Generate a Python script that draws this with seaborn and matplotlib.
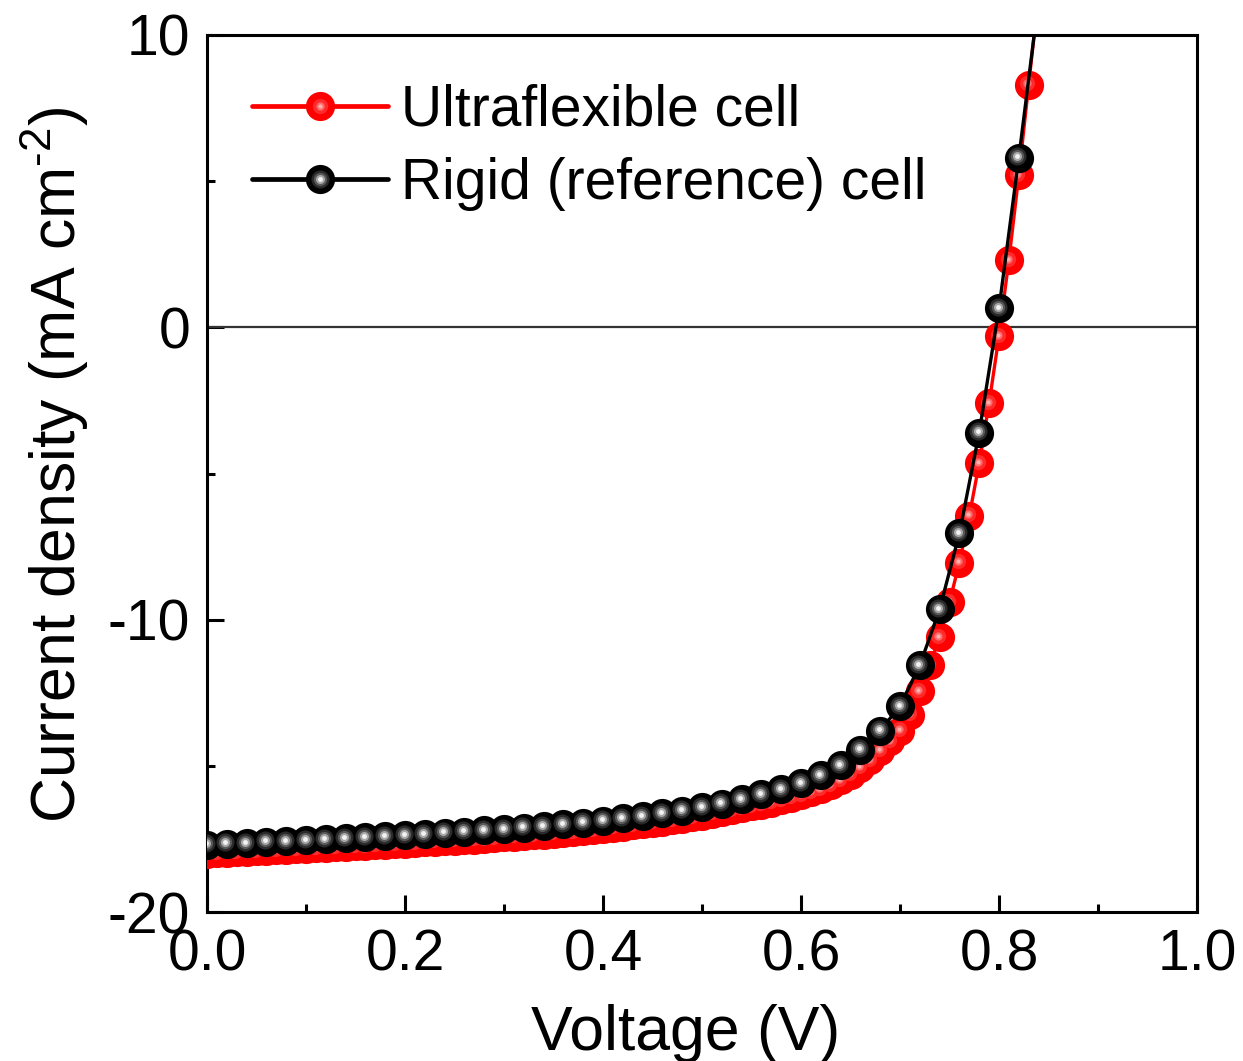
import numpy as np
import pandas as pd
import seaborn as sns
import matplotlib
matplotlib.use("Agg")
import matplotlib.pyplot as plt
from matplotlib.lines import Line2D
from matplotlib.legend_handler import HandlerTuple
from matplotlib.ticker import MultipleLocator
import matplotlib.transforms as mtransforms

# ---------------- data ----------------
rigid_voltage = [0.00, 0.02, 0.04, 0.06, 0.08, 0.10, 0.12, 0.14, 0.16, 0.18,
                 0.20, 0.22, 0.24, 0.26, 0.28, 0.30, 0.32, 0.34, 0.36, 0.38,
                 0.40, 0.42, 0.44, 0.46, 0.48, 0.50, 0.52, 0.54, 0.56, 0.58,
                 0.60, 0.62, 0.64, 0.66, 0.68, 0.70, 0.72, 0.74, 0.76, 0.78,
                 0.80, 0.82, 0.84]
rigid_current = [-17.70, -17.67, -17.64, -17.60, -17.57, -17.54, -17.50, -17.47, -17.44, -17.41,
                 -17.37, -17.33, -17.29, -17.25, -17.21, -17.16, -17.11, -17.06, -17.00, -16.94,
                 -16.88, -16.80, -16.72, -16.63, -16.53, -16.42, -16.30, -16.15, -15.98, -15.80,
                 -15.60, -15.32, -14.97, -14.45, -13.80, -12.95, -11.56, -9.65, -7.05, -3.60,
                 0.65, 5.80, 11.20]

flex_voltage = [0.00, 0.01, 0.02, 0.03, 0.04, 0.05, 0.06, 0.07, 0.08, 0.09,
                0.10, 0.11, 0.12, 0.13, 0.14, 0.15, 0.16, 0.17, 0.18, 0.19,
                0.20, 0.21, 0.22, 0.23, 0.24, 0.25, 0.26, 0.27, 0.28, 0.29,
                0.30, 0.31, 0.32, 0.33, 0.34, 0.35, 0.36, 0.37, 0.38, 0.39,
                0.40, 0.41, 0.42, 0.43, 0.44, 0.45, 0.46, 0.47, 0.48, 0.49,
                0.50, 0.51, 0.52, 0.53, 0.54, 0.55, 0.56, 0.57, 0.58, 0.59,
                0.60, 0.61, 0.62, 0.63, 0.64, 0.65, 0.66, 0.67, 0.68, 0.69,
                0.70, 0.71, 0.72, 0.73, 0.74, 0.75, 0.76, 0.77, 0.78, 0.79,
                0.80, 0.81, 0.82, 0.83, 0.84]
flex_current = [-18.00, -17.98, -17.97, -17.95, -17.94, -17.92, -17.90, -17.89, -17.87, -17.85,
                -17.84, -17.82, -17.80, -17.79, -17.77, -17.75, -17.74, -17.72, -17.70, -17.68,
                -17.66, -17.64, -17.62, -17.60, -17.58, -17.56, -17.54, -17.52, -17.50, -17.47,
                -17.45, -17.42, -17.40, -17.37, -17.35, -17.32, -17.29, -17.26, -17.23, -17.20,
                -17.16, -17.12, -17.08, -17.04, -17.00, -16.95, -16.91, -16.86, -16.81, -16.76,
                -16.70, -16.64, -16.58, -16.51, -16.45, -16.39, -16.33, -16.26, -16.18, -16.09,
                -16.00, -15.90, -15.79, -15.66, -15.50, -15.30, -15.07, -14.80, -14.48, -14.15,
                -13.80, -13.25, -12.45, -11.55, -10.60, -9.40, -8.05, -6.45, -4.65, -2.60,
                -0.30, 2.30, 5.20, 8.30, 11.40]

series_labels = ["Ultraflexible cell", "Rigid (reference) cell"]
x_ticks = [0.0, 0.2, 0.4, 0.6, 0.8, 1.0]
y_ticks = [-20, -10, 0, 10]

flex_df = pd.DataFrame({"Voltage": flex_voltage, "Current": flex_current})
rigid_df = pd.DataFrame({"Voltage": rigid_voltage, "Current": rigid_current})

# ---------------- style ----------------
sns.set_theme(style="ticks")
plt.rcParams["font.family"] = ["Liberation Sans", "DejaVu Sans"]
plt.rcParams["mathtext.fontset"] = "custom"
plt.rcParams["mathtext.rm"] = "Liberation Sans"
plt.rcParams["mathtext.it"] = "Liberation Sans"
for key in ["text.color", "axes.labelcolor", "xtick.color", "ytick.color", "axes.edgecolor"]:
    plt.rcParams[key] = "black"

fig = plt.figure(figsize=(12.43, 10.61), dpi=100)
ax = fig.add_axes([207 / 1243, 1 - 912 / 1061, 990 / 1243, 877 / 1061])

ax.axhline(0, color="#333333", lw=1.6, zorder=1)

MS = 21
def balls(df, base, layers, z):
    ax.plot(df["Voltage"], df["Current"], ls="none", marker="o", ms=MS,
            mfc=base, mec=base, mew=0, zorder=z)
    off = mtransforms.offset_copy(ax.transData, fig=fig, x=-1.0, y=1.0, units="points")
    for k, (col, s) in enumerate(layers):
        ax.plot(df["Voltage"], df["Current"], ls="none", marker="o", ms=s,
                mfc=col, mec=col, mew=0, zorder=z + 0.01 * (k + 1), transform=off)

red_layers = [("#ff2a2a", 11), ("#ff6a6a", 6), ("#ffb0b0", 3)]
black_layers = [("#2a2a2a", 13), ("#5a5a5a", 9.5), ("#a8a8a8", 6.5), ("#f2f2f2", 3.5)]

sns.lineplot(data=flex_df, x="Voltage", y="Current", color="#ff0000", lw=2.4,
             ax=ax, zorder=2, sort=False, estimator=None)
balls(flex_df, "#ff0000", red_layers, 3)
sns.lineplot(data=rigid_df, x="Voltage", y="Current", color="#000000", lw=2.4,
             ax=ax, zorder=4, sort=False, estimator=None)
balls(rigid_df, "#000000", black_layers, 5)

ax.set_xlim(0.0, 1.0)
ax.set_ylim(-20, 10)
ax.set_xticks(x_ticks)
ax.set_yticks(y_ticks)
ax.set_xticklabels([f"{t:.1f}" for t in x_ticks])
ax.set_yticklabels([f"{t:d}" for t in y_ticks])
ax.xaxis.set_minor_locator(MultipleLocator(0.1))
ax.yaxis.set_minor_locator(MultipleLocator(5))
ax.tick_params(which="both", direction="in", width=2.2, color="black",
               top=False, right=False)
ax.tick_params(which="major", length=12, labelsize=41, pad=12, labelcolor="black")
ax.tick_params(which="minor", length=6)
for sp in ax.spines.values():
    sp.set_linewidth(2.2)
    sp.set_color("black")

ax.set_xlabel("Voltage (V)", fontsize=45, color="black")
ax.set_ylabel(r"Current density (mA cm$^{\text{-2}}$)", fontsize=45, color="black")
ax.xaxis.label.set_verticalalignment("baseline")
ax.xaxis.set_label_coords(0.483, -0.157)
ax.yaxis.label.set_verticalalignment("center")
ax.yaxis.set_label_coords(-0.153, 0.51)

def handle(color, layers):
    parts = [Line2D([], [], color=color, lw=3.4, marker="o", ms=MS, mfc=color, mec=color, mew=0)]
    for col, s in layers:
        parts.append(Line2D([], [], ls="none", marker="o", ms=s, mfc=col, mec=col, mew=0))
    return tuple(parts)

leg = ax.legend([handle("#ff0000", red_layers), handle("#000000", black_layers)],
                series_labels, loc="upper left", bbox_to_anchor=(0.005, 0.99),
                frameon=False, fontsize=41, handlelength=2.4, handletextpad=0.22,
                labelspacing=0.34, borderpad=0.2,
                handler_map={tuple: HandlerTuple(ndivide=1, pad=0)})
for t in leg.get_texts():
    t.set_color("black")

fig.savefig("out.png", dpi=100)
